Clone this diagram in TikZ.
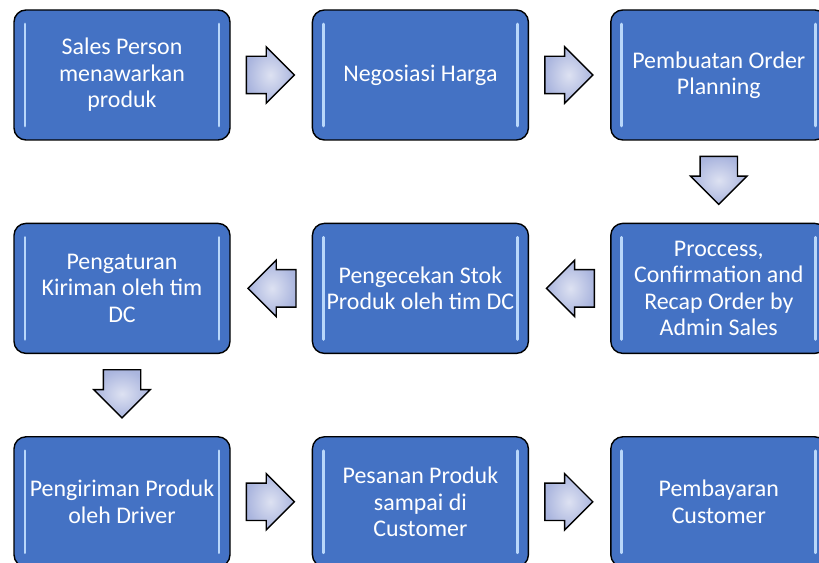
\documentclass[tikz,border=0pt]{standalone}
\usepackage{fontspec}
\setmainfont{Carlito}
\usetikzlibrary{positioning, shapes.arrows, calc}

\definecolor{boxblue}{RGB}{68,114,196}
\definecolor{boxglow}{RGB}{185,215,250}
\definecolor{arrowfill}{RGB}{170,181,222}

\tikzset{
  stage/.style={draw=black, line width=1.4bp, rounded corners=12bp,
    fill=boxblue, minimum width=216bp, minimum height=130bp, inner sep=0pt,
    align=center, text=white, font=\fontsize{24}{26.5}\selectfont,
    path picture={
      \draw [boxglow, line width=2.8bp, line cap=round]
        ([xshift=11bp,yshift=-14bp]path picture bounding box.north west) --
        ([xshift=11bp,yshift=14bp]path picture bounding box.south west);
      \draw [boxglow, line width=2.8bp, line cap=round]
        ([xshift=-11bp,yshift=-14bp]path picture bounding box.north east) --
        ([xshift=-11bp,yshift=14bp]path picture bounding box.south east);
    }},
  flow/.style={single arrow, draw=black, line width=1.4bp,
    inner color=arrowfill!40!white, outer color=arrowfill,
    minimum height=48bp, inner xsep=0pt, inner ysep=18bp,
    single arrow head extend=9.5bp, anchor=tail},
  flowdown/.style={flow, shape border rotate=270, inner xsep=18bp, inner ysep=0pt}
}

\begin{document}
\begin{tikzpicture}
  \useasboundingbox (0,0) rectangle (819bp,563bp);
  % first row
  \node [stage] (sales) at (122bp,488bp) {Sales Person\\menawarkan\\produk};
  \node [stage, right = 81bp of sales] (nego) {Negosiasi Harga};
  \node [stage, right = 81bp of nego] (plan) {Pembuatan Order\\Planning};
  % second row
  \node [stage, below = 82bp of plan] (proc) {Proccess,\\Confirmation and\\Recap Order by\\Admin Sales};
  \node [stage, left = 81bp of proc] (stok) {Pengecekan Stok\\Produk oleh tim DC};
  \node [stage, left = 81bp of stok] (atur) {Pengaturan\\Kiriman oleh tim\\DC};
  % third row
  \node [stage, below = 82bp of atur] (kirim) {Pengiriman Produk\\oleh Driver};
  \node [stage, right = 81bp of kirim] (sampai) {Pesanan Produk\\sampai di\\Customer};
  \node [stage, right = 81bp of sampai] (bayar) {Pembayaran\\Customer};
  % arrows
  \node [flow] (a1) at ([xshift=15bp]sales.east) {};
  \node [flow] (a2) at ([xshift=15bp]nego.east) {};
  \node [flowdown] (a3) at ([yshift=-15bp]plan.south) {};
  \node [flow, shape border rotate=180] (a4) at ([xshift=-15bp]proc.west) {};
  \node [flow, shape border rotate=180] (a5) at ([xshift=-15bp]stok.west) {};
  \node [flowdown] (a6) at ([yshift=-15bp]atur.south) {};
  \node [flow] (a7) at ([xshift=15bp]kirim.east) {};
  \node [flow] (a8) at ([xshift=15bp]sampai.east) {};
\end{tikzpicture}
\end{document}
